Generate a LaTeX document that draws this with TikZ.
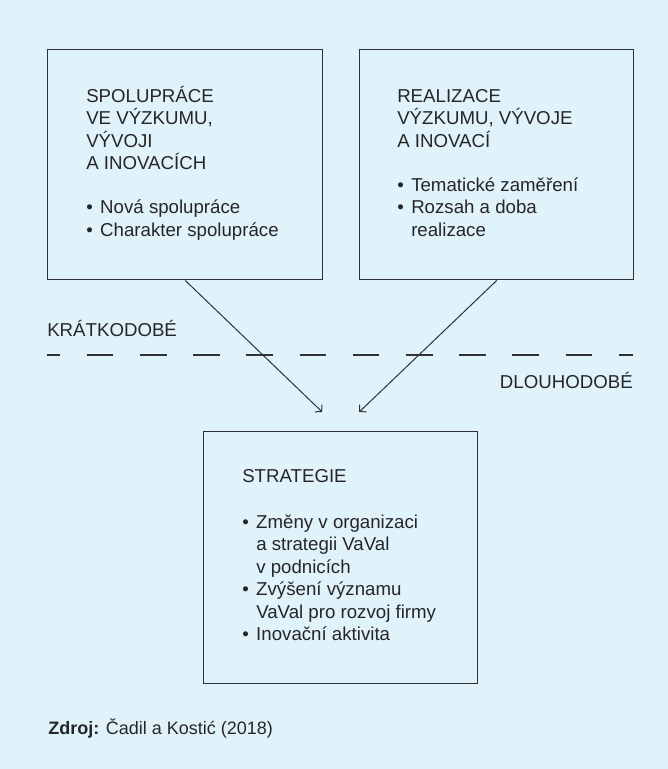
\documentclass[tikz,border=0pt]{standalone}
\usepackage{fontspec}
\setmainfont{Liberation Sans}
\usetikzlibrary{arrows.meta,calc}
\definecolor{bg}{RGB}{224,242,250}
\definecolor{ink}{RGB}{38,38,40}
\definecolor{edge}{RGB}{50,50,52}
\tikzset{
  box/.style={draw=edge, line width=1.1pt, fill=bg, anchor=north west, inner sep=0pt},
  tx/.style={anchor=base west, inner sep=0pt, text=ink, font=\fontsize{14}{16}\selectfont},
  conn/.style={draw=edge, line width=0.75pt, -{Straight Barb[length=3.6pt,width=7.6pt,line width=0.75pt]}},
  divider/.style={draw=edge, line width=2pt, dash pattern=on 19.95pt off 19.95pt, dash phase=10pt}
}
\newcommand{\bul}{\makebox[10.5pt][l]{\textbullet}}
\begin{document}
\begin{tikzpicture}[x=0.75pt,y=-0.75pt]
\fill[bg] (0,0) rectangle (668,769);
\useasboundingbox (0,0) rectangle (668,769);
% boxes
\node[box, minimum width=206.25pt, minimum height=172.5pt] (lbox) at (47,49) {};
\node[box, minimum width=205.5pt, minimum height=172.5pt] (rbox) at (359,49) {};
\node[box, minimum width=205.5pt, minimum height=189pt] (bbox) at (203,431) {};
% left box text
\node[tx] (l1) at (86,102) {SPOLUPRÁCE};
\node[tx] (l2) at (86,124.5) {VE VÝZKUMU,};
\node[tx] (l3) at (86,147) {VÝVOJI};
\node[tx] (l4) at (86,169.5) {A INOVACÍCH};
\node[tx] (l5) at (86,213.5) {\bul Nová spolupráce};
\node[tx] (l6) at (86,236) {\bul Charakter spolupráce};
% right box text
\node[tx] (r1) at (397,102) {REALIZACE};
\node[tx] (r2) at (397,124.5) {VÝZKUMU, VÝVOJE};
\node[tx] (r3) at (397,147) {A INOVACÍ};
\node[tx] (r4) at (397,191) {\bul Tematické zaměření};
\node[tx] (r5) at (397,213.5) {\bul Rozsah a doba};
\node[tx] (r6) at (411,236) {realizace};
% bottom box text
\node[tx] (b1) at (242,482) {STRATEGIE};
\node[tx] (b2) at (242,528) {\bul Změny v organizaci};
\node[tx] (b3) at (256,550.5) {a strategii VaVal};
\node[tx] (b4) at (256,573) {v podnicích};
\node[tx] (b5) at (242,595.5) {\bul Zvýšení významu};
\node[tx] (b6) at (256,618) {VaVal pro rozvoj firmy};
\node[tx] (b7) at (242,640.5) {\bul Inovační aktivita};
% divider and labels
\coordinate (dl) at (47,355);
\coordinate (dr) at (633,355);
\draw[divider] (dl) -- (dr);
\node[tx] (kr) at (47,336.5) {KRÁTKODOBÉ};
\node[tx, anchor=base east] (dlo) at (633,388) {DLOUHODOBÉ};
% connectors
\coordinate (tipL) at ($(bbox.north)+(-18.5,-19)$);
\coordinate (tipR) at ($(bbox.north)+(18.5,-19)$);
\draw[conn] (lbox.south) -- (tipL);
\draw[conn] (rbox.south) -- (tipR);
% source
\node[tx, font=\fontsize{13.5}{16}\selectfont] (src) at (48,734) {\textbf{Zdroj:} Čadil a Kostić (2018)};
\end{tikzpicture}
\end{document}
